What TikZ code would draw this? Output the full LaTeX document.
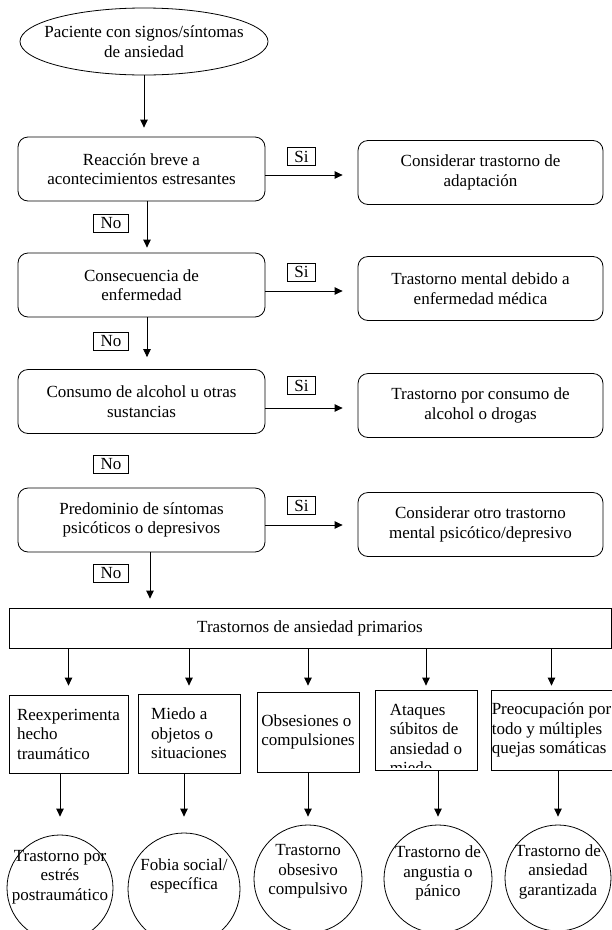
\documentclass[tikz,border=0pt]{standalone}
\usepackage{fontspec}
\setmainfont{Liberation Serif}
\usetikzlibrary{arrows.meta,shapes.geometric,positioning,calc}

\begin{document}
\begin{tikzpicture}[x=1pt, y=-1pt, line width=0.8pt,
    font=\fontsize{17}{19.5}\selectfont,
    >={Triangle[length=8pt,width=7.5pt]},
    pregunta/.style={draw, rounded corners=10pt, align=center,
      minimum width=247pt, minimum height=64pt, inner sep=0pt},
    destino/.style={draw, rounded corners=10pt, align=center,
      minimum width=245pt, minimum height=64pt, inner sep=0pt},
    resp/.style={draw, line width=0.6pt, inner xsep=7pt, inner ysep=0pt,
      minimum height=18pt},
    tipo/.style={draw, align=left, inner sep=0pt, minimum height=80pt},
    diag/.style={draw, circle, inner sep=0pt},
    flecha/.style={->, shorten >=#1}, flecha/.default=8pt]
  \useasboundingbox (0,0) rectangle (612,930);

  %% Inicio
  \node[draw, ellipse, align=center, minimum width=248pt, minimum height=67pt,
    inner xsep=-12pt, inner ysep=0pt] (inicio) at (144,41.5)
    {Paciente con signos/síntomas\\de ansiedad};

  %% Preguntas (columna izquierda)
  \node[pregunta] (reaccion)   at (141.5,169)   {Reacción breve a\\acontecimientos estresantes};
  \node[pregunta] (enfermedad) at (141.5,285)   {Consecuencia de\\enfermedad};
  \node[pregunta] (consumo)    at (141.5,401.5) {Consumo de alcohol u otras\\sustancias};
  \node[pregunta] (predominio) at (141.5,520)   {Predominio de síntomas\\psicóticos o depresivos};

  %% Destinos (columna derecha)
  \node[destino] (adaptacion) at (480.5,172.5) {Considerar trastorno de\\adaptación};
  \node[destino] (medica)     at (480.5,288.5) {Trastorno mental debido a\\enfermedad médica};
  \node[destino] (drogas)     at (480.5,405.5) {Trastorno por consumo de\\alcohol o drogas};
  \node[destino] (otro)       at (480.5,524.5) {Considerar otro trastorno\\mental psicótico/depresivo};

  %% Si / No
  \node[resp] (si1) at (301.5,156.5) {Si};
  \node[resp] (si2) at (301.5,272)   {Si};
  \node[resp] (si3) at (301.5,385.5) {Si};
  \node[resp] (si4) at (301.5,505.5) {Si};
  \node[resp] (no1) at (111,223)     {No};
  \node[resp] (no2) at (111,341.5)   {No};
  \node[resp] (no3) at (111,464.5)   {No};
  \node[resp] (no4) at (111,573.5)   {No};

  %% Flechas verticales
  \draw[flecha=9pt] (inicio.south) -- (inicio.south |- reaccion.north);
  \draw[flecha=5pt] ([xshift=5.5pt]reaccion.south) -- ([xshift=5.5pt]enfermedad.north);
  \draw[flecha=12pt] ([xshift=5.5pt]enfermedad.south) -- ([xshift=5.5pt]consumo.north);

  %% Flechas "Si"
  \foreach \p/\d/\s in {reaccion/adaptacion/6, enfermedad/medica/6,
                        consumo/drogas/6.5, predominio/otro/5}{
    \draw[flecha=15pt] ([yshift=-\s pt]\p.east) -- ([yshift=-\s pt]\p.east -| \d.west);
  }

  %% Trastornos primarios
  \node[draw, minimum width=602pt, minimum height=40pt, inner sep=0pt]
    (primarios) at (310,628) {Trastornos de ansiedad primarios};
  \draw[flecha=9pt] ([xshift=8.5pt]predominio.south) -- ([xshift=8.5pt]predominio.south |- primarios.north);

  \node[tipo, minimum width=119pt, minimum height=78pt] (reexp) at (68.5,734)  {Reexperimenta\\hecho\\traumático};
  \node[tipo, minimum width=102pt, minimum height=79pt] (miedo) at (189,733.5) {Miedo a\\objetos o\\situaciones};
  \node[tipo, minimum width=102pt] (obses)   at (308,732)   {Obsesiones o\\compulsiones};
  \node[tipo, minimum width=102pt] (ataques) at (426,730)   {};
  \begin{scope}
    \clip ([yshift=3pt]ataques.south west) rectangle (ataques.north east);
    \node[align=left, inner sep=0pt] (ataquesTxt) at (426,739) {Ataques\\súbitos de\\ansiedad o\\miedo};
  \end{scope}
  \node[tipo, minimum width=121pt] (preoc)   at (551.5,730) {Preocupación por\\todo y múltiples\\quejas somáticas};

  \foreach \f/\s in {reexp/9, miedo/8, obses/6, ataques/4, preoc/4}
    \draw[flecha=\s pt] (primarios.south -| \f.north) -- (\f.north);

  %% Diagnosticos
  \node[diag, minimum size=106pt] (tept)   at (60,888)  {};
  \node[diag, minimum size=112pt] (fobia)  at (184,889) {};
  \node[diag, minimum size=108pt] (toc)    at (308,879) {};
  \node[diag, minimum size=108pt] (panico) at (438,879) {};
  \node[diag, minimum size=106pt] (tag)    at (558,878) {};

  \node[align=center, inner sep=0pt] (teptTxt)   at (60,877)    {Trastorno por\\estrés\\postraumático};
  \node[align=center, inner sep=0pt] (fobiaTxt)  at (184,876)   {Fobia social/\\específica};
  \node[align=center, inner sep=0pt] (tocTxt)    at (308,871.5) {Trastorno\\obsesivo\\compulsivo};
  \node[align=center, inner sep=0pt] (panicoTxt) at (438,873)   {Trastorno de\\angustia o\\pánico};
  \node[align=center, inner sep=0pt] (tagTxt)    at (558,871.5) {Trastorno de\\ansiedad\\garantizada};

  \foreach \f/\d/\s in {reexp/tept/18, miedo/fobia/16, obses/toc/8,
                        ataques/panico/8, preoc/tag/8}
    \draw[flecha=\s pt] (\d.north |- \f.south) -- (\d.north);
\end{tikzpicture}
\end{document}
